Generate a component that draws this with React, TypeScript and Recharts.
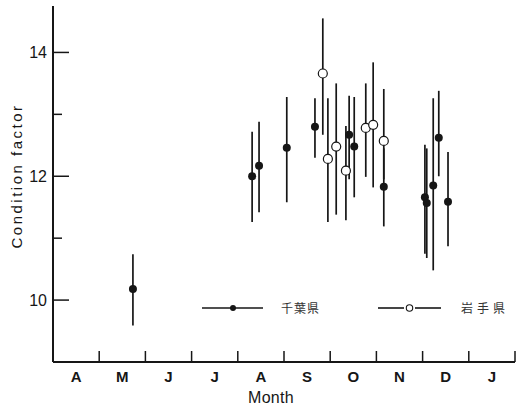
import { ComposedChart, Scatter, ErrorBar, XAxis, YAxis, Legend, Label } from "recharts";

// month labels, one per month slot starting in April
const months = ["A", "M", "J", "J", "A", "S", "O", "N", "D", "J"];
// month boundaries (tick marks) and month centres (labels)
const xTicks = [0, 0.5, 1, 1.5, 2, 2.5, 3, 3.5, 4, 4.5, 5, 5.5, 6, 6.5, 7, 7.5, 8, 8.5, 9, 9.5, 10];
const yTicks = [10, 11, 12, 13, 14];

// 千葉県 (filled)
const chibaPos = [1.73, 4.31, 4.46, 5.06, 5.67, 6.41, 6.52, 7.16, 8.05, 8.09, 8.23, 8.35, 8.55];
const chibaMean = [10.18, 12.0, 12.17, 12.46, 12.8, 12.67, 12.48, 11.83, 11.66, 11.57, 11.85, 12.62, 11.59];
const chibaLow = [9.59, 11.26, 11.42, 11.58, 12.3, 11.95, 11.66, 11.19, 10.75, 10.68, 10.48, 12.0, 10.87];
const chibaHigh = [10.74, 12.72, 12.88, 13.28, 13.26, 13.3, 13.28, 12.45, 12.51, 12.45, 13.26, 13.38, 12.39];

// 岩手県 (open)
const iwatePos = [5.84, 5.95, 6.13, 6.34, 6.77, 6.93, 7.16];
const iwateMean = [13.66, 12.28, 12.48, 12.09, 12.78, 12.83, 12.57];
const iwateLow = [12.67, 11.26, 11.38, 11.29, 11.99, 11.82, 11.95];
const iwateHigh = [14.55, 13.26, 13.5, 12.81, 13.5, 13.84, 13.41];

const build = (pos: number[], mean: number[], low: number[], high: number[]) =>
  pos.map((x, i) => ({ x, y: mean[i], err: [mean[i] - low[i], high[i] - mean[i]] }));

const chiba = build(chibaPos, chibaMean, chibaLow, chibaHigh);
const iwate = build(iwatePos, iwateMean, iwateLow, iwateHigh);

const INK = "#161616";
const FONT = "'Liberation Sans', Arial, sans-serif";
const JP = "'Noto Sans CJK JP', sans-serif";

const FilledDot = (p: any) => <circle cx={p.cx} cy={p.cy} r={4} fill={INK} />;
const OpenDot = (p: any) => <circle cx={p.cx} cy={p.cy} r={4.5} fill="#fff" stroke={INK} strokeWidth={1.2} />;

const YTick = (p: any) => {
  const v = p.payload.value;
  const major = v % 2 === 0;
  return (
    <g>
      <line x1={p.x} x2={p.x + (major ? 16 : 9)} y1={p.y} y2={p.y} stroke={INK} strokeWidth={1.5} />
      {major && (
        <text x={p.x - 6} y={p.y} dy="0.36em" textAnchor="end" fontSize={16} fill={INK} fontFamily={FONT}>
          {v}
        </text>
      )}
    </g>
  );
};

const XTick = (p: any) => {
  const v = p.payload.value;
  if (Number.isInteger(v)) {
    if (v === 0) return <g />;
    return <line x1={p.x} x2={p.x} y1={p.y} y2={p.y - 11} stroke={INK} strokeWidth={1.5} />;
  }
  return (
    <text x={p.x} y={p.y + 20} textAnchor="middle" fontSize={15} fontWeight="bold" fill={INK} fontFamily={FONT}>
      {months[Math.floor(v)]}
    </text>
  );
};

const renderLegend = () => (
  <svg width={330} height={24}>
    <line x1={7} x2={68} y1={12} y2={12} stroke={INK} strokeWidth={1.5} />
    <circle cx={38} cy={12} r={3} fill={INK} />
    <text x={86} y={17} fontSize={12} letterSpacing={1} fill="#333" fontFamily={JP}>千葉県</text>
    <line x1={183} x2={209} y1={12} y2={12} stroke={INK} strokeWidth={1.6} />
    <circle cx={214.5} cy={12} r={3.2} fill="#fff" stroke={INK} strokeWidth={1.1} />
    <line x1={220} x2={246} y1={12} y2={12} stroke={INK} strokeWidth={1.6} />
    <text x={266} y={17} fontSize={12} letterSpacing={4} fill="#333" fontFamily={JP}>岩手県</text>
  </svg>
);

export default function App() {
  return (
    <div style={{ position: "absolute", left: 0, top: 0, width: 524, height: 407, background: "#fff" }}>
      <ComposedChart width={524} height={407} margin={{ top: 6, right: 9, left: 0, bottom: 0 }}>
        <XAxis
          dataKey="x"
          type="number"
          domain={[0, 10]}
          ticks={xTicks}
          tick={<XTick />}
          tickLine={false}
          tickSize={0}
          tickMargin={0}
          height={45}
          stroke={INK}
          strokeWidth={2}
          interval={0}
        >
          <Label
            content={() => (
              <text x={271} y={403} textAnchor="middle" fontSize={16} letterSpacing={0.3} fill={INK} fontFamily={FONT}>
                Month
              </text>
            )}
          />
        </XAxis>
        <YAxis
          dataKey="y"
          type="number"
          domain={[9, 14.75]}
          ticks={yTicks}
          tick={<YTick />}
          tickLine={false}
          tickSize={0}
          tickMargin={0}
          width={53}
          stroke={INK}
          strokeWidth={2}
          interval={0}
        >
          <Label
            content={() => (
              <text
                transform="translate(22,176) rotate(-90)"
                textAnchor="middle"
                fontSize={15}
                letterSpacing={2.5}
                fill={INK}
                fontFamily={FONT}
              >
                Condition factor
              </text>
            )}
          />
        </YAxis>
        <Legend
          content={renderLegend}
          layout="horizontal"
          verticalAlign="middle"
          align="center"
          wrapperStyle={{ left: 195, top: 296, width: 330, height: 24 }}
        />
        <Scatter name="千葉県" data={chiba} shape={FilledDot} isAnimationActive={false}>
          <ErrorBar dataKey="err" direction="y" width={0} stroke={INK} strokeWidth={1.7} isAnimationActive={false} />
        </Scatter>
        <Scatter name="岩手県" data={iwate} shape={OpenDot} isAnimationActive={false}>
          <ErrorBar dataKey="err" direction="y" width={0} stroke={INK} strokeWidth={1.7} isAnimationActive={false} />
        </Scatter>
      </ComposedChart>
    </div>
  );
}
